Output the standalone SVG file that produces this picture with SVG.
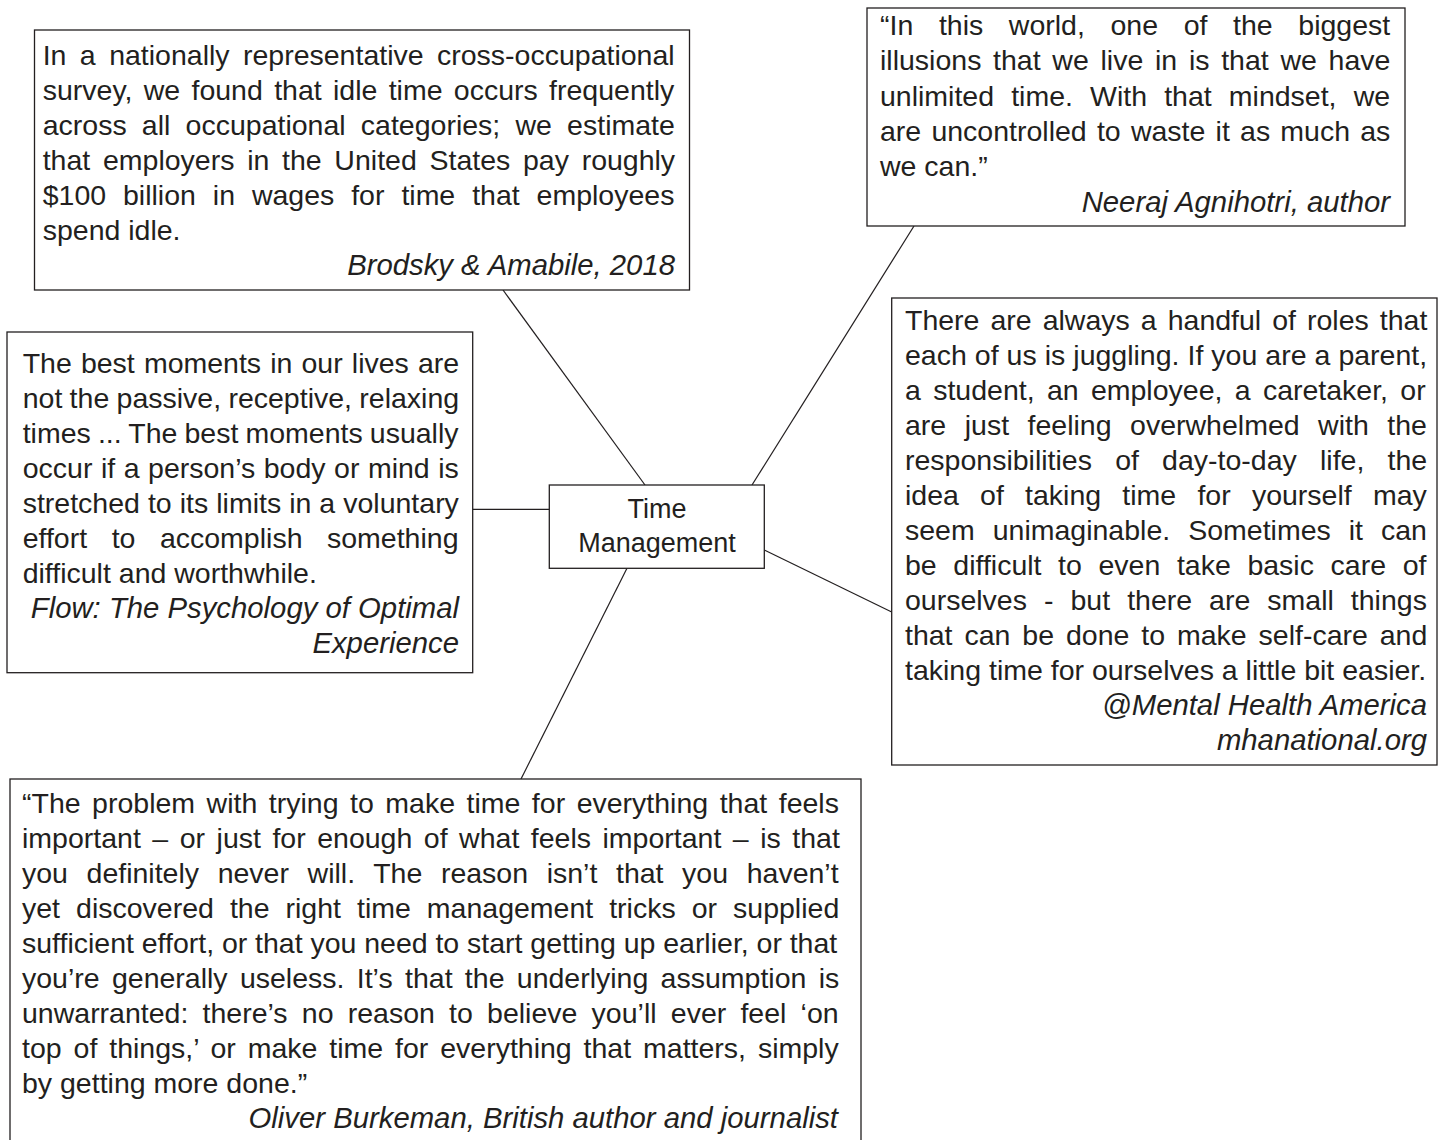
<svg xmlns="http://www.w3.org/2000/svg" width="1445" height="1140" viewBox="0 0 1445 1140">
<style>
.box{fill:#fff;stroke:#231f20;stroke-width:1.3}
.t{font-family:"Liberation Sans",Arial,"Helvetica",sans-serif;font-size:28.5px;fill:#231f20}
.a{font-style:italic;text-anchor:end;font-size:29.3px}
.c{font-size:27px;text-anchor:middle}
.conn line{stroke:#231f20;stroke-width:1.2}
</style>
<rect width="1445" height="1140" fill="#fff"/>
<g id="connectors" class="conn">
<line x1="503" y1="290" x2="645" y2="485"/>
<line x1="914" y1="226" x2="752" y2="485"/>
<line x1="472.7" y1="509.3" x2="549.3" y2="509.3"/>
<line x1="764.3" y1="550" x2="891.7" y2="612"/>
<line x1="627" y1="568.3" x2="521" y2="779"/>
</g>
<g id="node-center">
<rect class="box" x="549.3" y="485" width="215" height="83.3"/>
<text class="t c" x="657" y="518">Time</text>
<text class="t c" x="657" y="552">Management</text>
</g>
<g id="node-brodsky">
<rect class="box" x="34.5" y="30" width="655" height="260"/>
<text class="t" x="42.7" y="65" style="word-spacing:5.5px">In a nationally representative cross-occupational</text>
<text class="t" x="42.7" y="100" style="word-spacing:3.4px">survey, we found that idle time occurs frequently</text>
<text class="t" x="42.7" y="135" style="word-spacing:7.3px">across all occupational categories; we estimate</text>
<text class="t" x="42.7" y="170" style="word-spacing:4.8px">that employers in the United States pay roughly</text>
<text class="t" x="42.7" y="205" style="word-spacing:9px">$100 billion in wages for time that employees</text>
<text class="t" x="42.7" y="240">spend idle.</text>
<text class="t a" x="675" y="275">Brodsky &amp; Amabile, 2018</text>
</g>
<g id="node-agnihotri">
<rect class="box" x="867" y="8" width="538" height="218"/>
<text class="t" x="880" y="35" style="word-spacing:17.7px">“In this world, one of the biggest</text>
<text class="t" x="880" y="70.3" style="word-spacing:3.8px">illusions that we live in is that we have</text>
<text class="t" x="880" y="105.6" style="word-spacing:9.2px">unlimited time. With that mindset, we</text>
<text class="t" x="880" y="140.9" style="word-spacing:2.3px">are uncontrolled to waste it as much as</text>
<text class="t" x="880" y="176.2">we can.”</text>
<text class="t a" x="1390" y="211.5">Neeraj Agnihotri, author</text>
</g>
<g id="node-flow">
<rect class="box" x="7" y="332" width="465.7" height="340.7"/>
<text class="t" x="22.7" y="373" style="word-spacing:1.2px">The best moments in our lives are</text>
<text class="t" x="22.7" y="408" style="word-spacing:-0.6px">not the passive, receptive, relaxing</text>
<text class="t" x="22.7" y="443" style="word-spacing:-0.8px">times ... The best moments usually</text>
<text class="t" x="22.7" y="478" style="word-spacing:0.6px">occur if a person’s body or mind is</text>
<text class="t" x="22.7" y="513" style="word-spacing:0.1px">stretched to its limits in a voluntary</text>
<text class="t" x="22.7" y="548" style="word-spacing:16.6px">effort to accomplish something</text>
<text class="t" x="22.7" y="583">difficult and worthwhile.</text>
<text class="t a" x="459" y="618">Flow: The Psychology of Optimal</text>
<text class="t a" x="459" y="653">Experience</text>
</g>
<g id="node-mha">
<rect class="box" x="891.7" y="298" width="545.3" height="467"/>
<text class="t" x="905" y="330" style="word-spacing:3.1px">There are always a handful of roles that</text>
<text class="t" x="905" y="365" style="word-spacing:0.1px">each of us is juggling. If you are a parent,</text>
<text class="t" x="905" y="400" style="word-spacing:4.4px">a student, an employee, a caretaker, or</text>
<text class="t" x="905" y="435" style="word-spacing:10.6px">are just feeling overwhelmed with the</text>
<text class="t" x="905" y="470" style="word-spacing:15.3px">responsibilities of day-to-day life, the</text>
<text class="t" x="905" y="505" style="word-spacing:13.3px">idea of taking time for yourself may</text>
<text class="t" x="905" y="540" style="word-spacing:10.1px">seem unimaginable. Sometimes it can</text>
<text class="t" x="905" y="575" style="word-spacing:8.7px">be difficult to even take basic care of</text>
<text class="t" x="905" y="610" style="word-spacing:9.1px">ourselves - but there are small things</text>
<text class="t" x="905" y="645" style="word-spacing:4px">that can be done to make self-care and</text>
<text class="t" x="905" y="680" style="word-spacing:0px">taking time for ourselves a little bit easier.</text>
<text class="t a" x="1427" y="715">@Mental Health America</text>
<text class="t a" x="1427" y="750">mhanational.org</text>
</g>
<g id="node-burkeman">
<rect class="box" x="10" y="779" width="851" height="380"/>
<text class="t" x="22" y="813" style="word-spacing:3.6px">“The problem with trying to make time for everything that feels</text>
<text class="t" x="22" y="848" style="word-spacing:3.6px">important – or just for enough of what feels important – is that</text>
<text class="t" x="22" y="883" style="word-spacing:10.7px">you definitely never will. The reason isn’t that you haven’t</text>
<text class="t" x="22" y="918" style="word-spacing:8.1px">yet discovered the right time management tricks or supplied</text>
<text class="t" x="22" y="953" style="word-spacing:-0.1px">sufficient effort, or that you need to start getting up earlier, or that</text>
<text class="t" x="22" y="988" style="word-spacing:4.4px">you’re generally useless. It’s that the underlying assumption is</text>
<text class="t" x="22" y="1023" style="word-spacing:6.3px">unwarranted: there’s no reason to believe you’ll ever feel ‘on</text>
<text class="t" x="22" y="1058" style="word-spacing:4px">top of things,’ or make time for everything that matters, simply</text>
<text class="t" x="22" y="1093">by getting more done.”</text>
<text class="t a" x="838" y="1128">Oliver Burkeman, British author and journalist</text>
</g>
</svg>
